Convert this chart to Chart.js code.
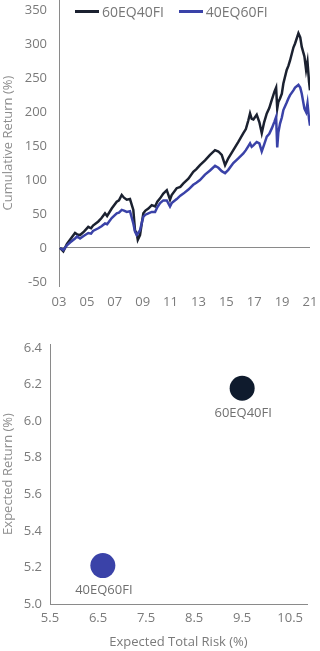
<!DOCTYPE html>
<html>
<head>
<meta charset="utf-8">
<script src="https://cdn.jsdelivr.net/npm/chart.js@4.4.1/dist/chart.umd.min.js"></script>
<style>
  html, body { margin: 0; padding: 0; background: #fff; }
  body { width: 320px; height: 651px; overflow: hidden; font-family: 'Open Sans', sans-serif; }
  .panel { position: relative; width: 320px; }
  #top-panel { height: 320px; }
  #bottom-panel { height: 331px; }
  .legend { position: absolute; top: 2px; left: 75px; display: flex; font-size: 14px; color: #777; }
  .legend-item { display: flex; align-items: center; margin-right: 15px; }
  .legend-line { width: 24px; height: 3px; margin-right: 3px; }
</style>
</head>
<body>
<div class="panel" id="top-panel">
  <canvas id="return-chart"></canvas>
  <div class="legend" id="return-legend"></div>
</div>
<div class="panel" id="bottom-panel">
  <canvas id="risk-chart"></canvas>
</div>
<script>
// Cumulative return history (fractional years)
const years = [
  2003.07, 2003.31, 2003.57, 2003.79, 2004.15, 2004.30, 2004.51, 2004.79, 2005.10, 2005.30,
  2005.44, 2005.82, 2006.05, 2006.30, 2006.45, 2006.78, 2007.14, 2007.30, 2007.50, 2007.66,
  2007.86, 2008.09, 2008.33, 2008.45, 2008.57, 2008.65, 2008.81, 2008.95, 2009.05, 2009.20,
  2009.41, 2009.65, 2009.89, 2010.05, 2010.25, 2010.48, 2010.73, 2010.96, 2011.08, 2011.44,
  2011.70, 2011.92, 2012.28, 2012.63, 2012.85, 2013.11, 2013.47, 2013.83, 2014.19, 2014.43,
  2014.67, 2014.91, 2015.14, 2015.50, 2015.86, 2016.22, 2016.40, 2016.58, 2016.70, 2016.82,
  2016.94, 2017.18, 2017.37, 2017.54, 2017.71, 2017.90, 2018.08, 2018.26, 2018.45, 2018.57,
  2018.65, 2018.73, 2018.85, 2018.98, 2019.09, 2019.33, 2019.45, 2019.57, 2019.81, 2019.93,
  2020.17, 2020.30, 2020.41, 2020.60, 2020.72, 2020.82, 2020.93, 2021.00
];
const cumReturn6040 = [
  0, -5, 6, 12, 22, 20, 19, 24, 31, 29,
  33, 39, 44, 51, 47, 58, 68, 70, 78, 74,
  71, 72, 56, 26, 22, 12, 19, 38, 51, 55,
  58, 63, 61, 68, 73, 80, 85, 71, 78, 88,
  90, 95, 102, 112, 116, 122, 129, 137, 144, 142,
  137, 122, 132, 144, 156, 169, 175, 188, 198, 190,
  189, 196, 185, 169, 185, 198, 206, 218, 230, 236,
  205, 215, 220, 227, 242, 262, 268, 276, 295, 301,
  316, 310, 296, 282, 262, 274, 245, 232
];
const cumReturn4060 = [
  0, -3, 4, 8, 14, 17, 14, 18, 22, 21,
  25, 29, 32, 36, 35, 44, 51, 52, 56, 55,
  53, 54, 36, 24, 19, 21, 26, 38, 46, 49,
  51, 53, 53, 60, 66, 70, 70, 61, 66, 72,
  77, 80, 86, 93, 96, 100, 108, 114, 121, 118,
  113, 110, 115, 125, 132, 139, 144, 150, 154, 149,
  151, 156, 154, 142, 152, 164, 168, 176, 186, 193,
  148, 170, 183, 192, 203, 214, 220, 225, 232, 236,
  240, 236, 227, 205, 200, 213, 190, 180
];
const yearTicks = [2003, 2005, 2007, 2009, 2011, 2013, 2015, 2017, 2019, 2021];
const returnTicks = [-50, 0, 50, 100, 150, 200, 250, 300, 350];

// Expected risk / return
const portfolios = ['60EQ40FI', '40EQ60FI'];
const expectedRisk = [9.5, 6.6];
const expectedReturn = [6.18, 5.21];
const riskTicks = [5.5, 6.5, 7.5, 8.5, 9.5, 10.5];
const expReturnTicks = [5.0, 5.2, 5.4, 5.6, 5.8, 6.0, 6.2, 6.4];

const DARK = '#1b2130';
const BLUE = '#3a42a8';
const TICK_COLOR = '#7a7a7a';
const TITLE_COLOR = '#8e8e8e';
const AXIS_COLOR = '#8a8a8a';

Chart.defaults.font.family = "'Open Sans', sans-serif";
Chart.defaults.font.size = 13;
Chart.defaults.color = TICK_COLOR;

const useTicks = list => scale => { scale.ticks = list.map(v => ({ value: v })); };

// HTML legend for the line chart
const legendEl = document.getElementById('return-legend');
legendEl.innerHTML = [[portfolios[0], DARK], [portfolios[1], BLUE]].map(([name, color]) => `
  <span class="legend-item"><span class="legend-line" style="background:${color}"></span>${name}</span>
`).join('');

new Chart(document.getElementById('return-chart'), {
  type: 'line',
  data: {
    datasets: [
      {
        label: portfolios[0],
        data: years.map((x, i) => ({ x, y: cumReturn6040[i] })),
        borderColor: DARK,
        borderWidth: 2.5,
        pointRadius: 0,
        tension: 0,
        order: 1
      },
      {
        label: portfolios[1],
        data: years.map((x, i) => ({ x, y: cumReturn4060[i] })),
        borderColor: BLUE,
        borderWidth: 2.5,
        pointRadius: 0,
        tension: 0,
        order: 0
      }
    ]
  },
  options: {
    responsive: true,
    maintainAspectRatio: false,
    animation: false,
    layout: { padding: { top: 0, right: 10, bottom: 0, left: 0 } },
    plugins: { legend: { display: false }, tooltip: { enabled: false } },
    scales: {
      x: {
        type: 'linear',
        min: 2003,
        max: 2021,
        afterBuildTicks: useTicks(yearTicks),
        afterFit(s) { s.height = 34; s.paddingLeft = 0; s.paddingRight = 0; },
        grid: { display: false, drawTicks: false },
        border: { display: false },
        ticks: {
          padding: 8,
          maxRotation: 0,
          autoSkip: false,
          callback: v => String(v).slice(2)
        }
      },
      y: {
        min: -56,
        max: 365,
        afterBuildTicks: useTicks(returnTicks),
        afterFit(s) { s.width = 59; s.paddingTop = 0; s.paddingBottom = 0; },
        grid: {
          drawTicks: false,
          color: ctx => (ctx.tick && ctx.tick.value === 0 ? AXIS_COLOR : 'transparent')
        },
        border: { display: true, color: AXIS_COLOR, width: 1 },
        ticks: { padding: 12 },
        title: {
          display: true,
          text: 'Cumulative Return (%)',
          color: TITLE_COLOR,
          padding: 0,
          font: { size: 13 }
        }
      }
    }
  }
});

// Draws the portfolio name under each bubble
const pointLabels = {
  id: 'pointLabels',
  afterDatasetsDraw(chart) {
    const { ctx } = chart;
    const meta = chart.getDatasetMeta(0);
    ctx.save();
    ctx.font = "13px 'Open Sans', sans-serif";
    ctx.fillStyle = '#707070';
    ctx.textAlign = 'center';
    ctx.textBaseline = 'middle';
    meta.data.forEach((pt, i) => {
      ctx.fillText(portfolios[i], pt.x + 1, pt.y + 25);
    });
    ctx.restore();
  }
};

new Chart(document.getElementById('risk-chart'), {
  type: 'scatter',
  data: {
    labels: portfolios,
    datasets: [{
      data: expectedRisk.map((x, i) => ({ x, y: expectedReturn[i] })),
      backgroundColor: ['#0f1b2d', BLUE],
      borderWidth: 0,
      pointRadius: 12.5,
      pointHoverRadius: 12.5
    }]
  },
  options: {
    responsive: true,
    maintainAspectRatio: false,
    animation: false,
    layout: { padding: { top: 24, right: 13, bottom: 0, left: 0 } },
    plugins: { legend: { display: false }, tooltip: { enabled: false } },
    scales: {
      x: {
        type: 'linear',
        min: 5.5,
        max: 10.85,
        afterBuildTicks: useTicks(riskTicks),
        afterFit(s) { s.height = 47; s.paddingLeft = 0; s.paddingRight = 0; },
        grid: { display: false, drawTicks: false },
        border: { display: true, color: AXIS_COLOR, width: 1 },
        ticks: { padding: 6, maxRotation: 0, autoSkip: false, callback: v => v.toFixed(1) },
        title: {
          display: true,
          text: 'Expected Total Risk (%)',
          color: TICK_COLOR,
          padding: { top: 0, bottom: 1 },
          font: { size: 13 }
        }
      },
      y: {
        min: 5.0,
        max: 6.422,
        afterBuildTicks: useTicks(expReturnTicks),
        afterFit(s) { s.width = 50; s.paddingTop = 0; s.paddingBottom = 0; },
        grid: { display: false, drawTicks: false },
        border: { display: true, color: AXIS_COLOR, width: 1 },
        ticks: { padding: 8, callback: v => v.toFixed(1) },
        title: {
          display: true,
          text: 'Expected Return (%)',
          color: TITLE_COLOR,
          padding: 0,
          font: { size: 13 }
        }
      }
    }
  },
  plugins: [pointLabels]
});
</script>
</body>
</html>
